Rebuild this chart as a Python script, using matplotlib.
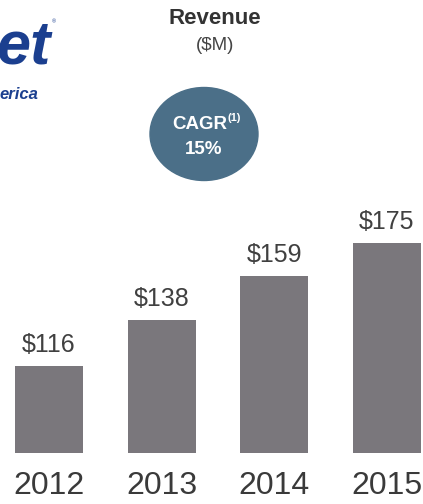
import matplotlib.pyplot as plt
from matplotlib.patches import Ellipse

plt.rcParams['font.family'] = ['Liberation Sans', 'DejaVu Sans']

years = ['2012', '2013', '2014', '2015']
revenue = [116, 138, 159, 175]
value_labels = ['$116', '$138', '$159', '$175']

fig = plt.figure(figsize=(4.23, 5.04), dpi=100)

# bar area
ax = fig.add_axes([0, 0.1012, 1, 0.502])
x = list(range(len(years)))
ax.bar(x, revenue, width=0.605, color='#7a777c', bottom=0)
ax.set_xlim(-0.436, 3.324)
ax.set_ylim(74.3, 195.6)
for xi, v, lab in zip(x, revenue, value_labels):
    ax.annotate(lab, (xi, v), xytext=(0, 10), textcoords='offset points',
                ha='center', va='baseline', fontsize=18, color='#404040')
ax.set_xticks(x)
ax.set_xticklabels(years, fontsize=23, color='#3a3a3a')
ax.tick_params(axis='x', length=0, pad=13)
ax.set_yticks([])
for s in ax.spines.values():
    s.set_visible(False)

# title
fig.text(0.509, 0.964, 'Revenue', ha='center', va='center', fontsize=16,
         fontweight='bold', color='#333333')
fig.text(0.509, 0.909, '($M)', ha='center', va='center', fontsize=13.5,
         color='#444444')

# CAGR bubble
ov = fig.add_axes([0, 0, 1, 1], facecolor='none')
ov.set_xlim(0, 423)
ov.set_ylim(504, 0)
ov.axis('off')
ov.add_patch(Ellipse((204, 134), 108, 93, color='#4b6f88'))
ov.text(227, 129, 'CAGR', ha='right', va='baseline', fontsize=13.5,
        fontweight='bold', color='white')
ov.text(228, 121, '(1)', ha='left', va='baseline', fontsize=8,
        fontweight='bold', color='white')
ov.text(204, 154, '15%', ha='center', va='baseline', fontsize=13.5,
        fontweight='bold', color='white')

# cropped logo fragment
ov.text(50, 64, 'et', ha='right', va='baseline', fontsize=44, fontweight='bold',
        fontstyle='italic', color='#1b3f8f')
ov.text(52, 22, '®', ha='left', va='center', fontsize=4, color='#1b3f8f')
ov.text(38, 99, 'erica', ha='right', va='baseline', fontsize=12, fontweight='bold',
        fontstyle='italic', color='#1b3f8f')

fig.savefig('out.png', dpi=100)
